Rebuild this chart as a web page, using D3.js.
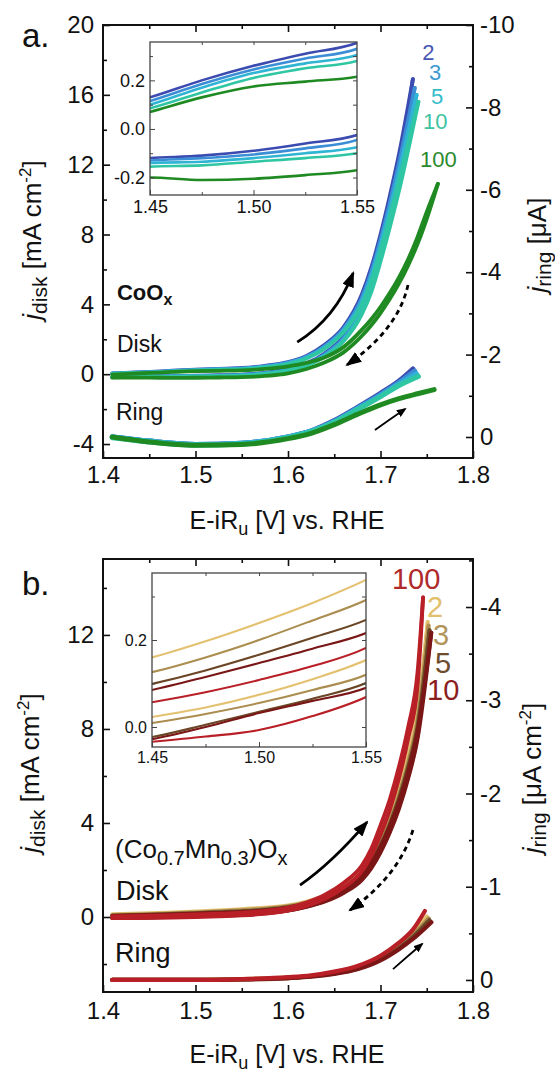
<!DOCTYPE html>
<html>
<head>
<meta charset="utf-8">
<script src="https://cdn.jsdelivr.net/npm/d3@7"></script>
<style>
body { margin: 0; background: #fff; }
text { font-family: "Liberation Sans", Arial, sans-serif; fill: #111; }
</style>
</head>
<body>
<svg id="fig" width="555" height="1074"></svg>
<script>
// ---------- data ----------
const scanRates = ["2", "3", "5", "10", "100"]   // mV/s

// panel a: CoOx  (disk in mA cm-2, ring in uA)
const gridA = [1.41, 1.45, 1.475, 1.50, 1.525, 1.55, 1.575, 1.60, 1.62, 1.64, 1.66, 1.68, 1.69, 1.70, 1.71, 1.72, 1.73, 1.74, 1.75]
const diskFwdA = [
    [0.05, 0.13, 0.20, 0.26, 0.31, 0.355, 0.48, 0.70, 1.05, 1.70, 2.70, 4.60, 6.10, 8.00, 10.2, 12.6],
    [0.04, 0.115, 0.185, 0.245, 0.29, 0.33, 0.45, 0.66, 1.00, 1.62, 2.60, 4.40, 5.85, 7.70, 9.80, 12.1],
    [0.03, 0.10, 0.17, 0.23, 0.27, 0.305, 0.42, 0.62, 0.95, 1.55, 2.50, 4.20, 5.60, 7.40, 9.40, 11.6],
    [0.02, 0.085, 0.15, 0.21, 0.25, 0.28, 0.39, 0.58, 0.90, 1.48, 2.40, 4.00, 5.35, 7.10, 9.00, 11.1],
    [-0.02, 0.07, 0.13, 0.175, 0.195, 0.215, 0.30, 0.45, 0.65, 0.97, 1.55, 2.55, 3.15, 3.85, 4.65, 5.55, 6.60, 7.85, 9.30]
]
const diskRevA = [
    [-0.15, -0.12, -0.11, -0.09, -0.06, -0.025, 0.08, 0.30, 0.62, 1.20, 2.15, 3.90, 5.30, 7.20, 9.40, 11.8],
    [-0.16, -0.13, -0.12, -0.105, -0.08, -0.045, 0.06, 0.27, 0.58, 1.14, 2.05, 3.75, 5.10, 6.95, 9.05, 11.4],
    [-0.17, -0.14, -0.135, -0.12, -0.10, -0.075, 0.03, 0.24, 0.54, 1.08, 1.96, 3.60, 4.90, 6.70, 8.70, 10.9],
    [-0.18, -0.155, -0.15, -0.135, -0.12, -0.10, 0.00, 0.21, 0.50, 1.02, 1.88, 3.45, 4.70, 6.45, 8.40, 10.5],
    [-0.20, -0.20, -0.21, -0.205, -0.19, -0.17, -0.10, 0.05, 0.30, 0.68, 1.25, 2.20, 2.80, 3.50, 4.30, 5.20, 6.25, 7.45, 8.90]
]
const diskTurnA = [[1.735, 16.9], [1.737, 16.4], [1.739, 16.0], [1.741, 15.6], [1.762, 10.9]]

const ringGridA = [1.41, 1.45, 1.50, 1.55, 1.60, 1.625, 1.65, 1.675, 1.70, 1.72, 1.74]
const ringA = [
    [0.00, 0.10, 0.18, 0.15, 0.00, -0.15, -0.40, -0.72, -1.06, -1.36],
    [0.00, 0.10, 0.18, 0.15, 0.00, -0.14, -0.38, -0.70, -1.03, -1.32],
    [0.00, 0.10, 0.18, 0.15, 0.00, -0.14, -0.37, -0.68, -1.00, -1.28],
    [0.02, 0.12, 0.20, 0.17, 0.02, -0.13, -0.36, -0.66, -0.98, -1.25],
    [0.00, 0.12, 0.20, 0.18, 0.04, -0.09, -0.30, -0.55, -0.78, -0.93, -1.05]
]
const ringTurnA = [[1.735, -1.65], [1.737, -1.60], [1.739, -1.53], [1.741, -1.47], [1.758, -1.15]]

// panel b: (Co0.7Mn0.3)Ox  (disk in mA cm-2, ring in uA cm-2)
const gridB = [1.41, 1.45, 1.475, 1.50, 1.525, 1.55, 1.575, 1.60, 1.62, 1.64, 1.66, 1.68, 1.69, 1.70, 1.71, 1.72, 1.73, 1.74]
const diskFwdB = [
    [0.12, 0.16, 0.197, 0.239, 0.285, 0.338, 0.40, 0.50, 0.66, 0.92, 1.32, 1.95, 2.50, 3.25, 4.20, 5.40, 6.90, 8.80],
    [0.09, 0.126, 0.16, 0.20, 0.245, 0.292, 0.36, 0.46, 0.62, 0.88, 1.27, 1.90, 2.42, 3.15, 4.05, 5.20, 6.60, 8.40],
    [0.06, 0.099, 0.13, 0.166, 0.205, 0.246, 0.31, 0.42, 0.58, 0.84, 1.22, 1.83, 2.35, 3.05, 3.95, 5.05, 6.40, 8.10],
    [0.05, 0.085, 0.115, 0.147, 0.18, 0.216, 0.28, 0.39, 0.55, 0.80, 1.18, 1.78, 2.28, 2.98, 3.85, 4.90, 6.20, 7.90],
    [0.03, 0.057, 0.08, 0.108, 0.14, 0.182, 0.26, 0.40, 0.62, 0.95, 1.45, 2.20, 2.90, 3.90, 5.00, 6.40, 8.10, 10.4]
]
const diskRevB = [
    [-0.01, 0.023, 0.045, 0.074, 0.11, 0.154, 0.22, 0.33, 0.49, 0.74, 1.12, 1.72, 2.25, 2.95, 3.85, 5.00, 6.45, 8.30],
    [-0.02, 0.009, 0.03, 0.055, 0.085, 0.12, 0.19, 0.30, 0.46, 0.71, 1.08, 1.68, 2.18, 2.88, 3.75, 4.85, 6.20, 8.00],
    [-0.04, -0.023, 0.005, 0.035, 0.065, 0.101, 0.17, 0.28, 0.44, 0.68, 1.05, 1.62, 2.12, 2.80, 3.65, 4.70, 6.00, 7.70],
    [-0.045, -0.028, 0.00, 0.032, 0.06, 0.09, 0.16, 0.27, 0.43, 0.66, 1.02, 1.58, 2.07, 2.74, 3.58, 4.60, 5.90, 7.55],
    [-0.05, -0.034, -0.022, -0.007, 0.025, 0.069, 0.14, 0.27, 0.47, 0.78, 1.25, 1.95, 2.60, 3.50, 4.55, 5.90, 7.60, 9.80]
]
const diskTurnB = [[1.751, 12.55], [1.752, 12.4], [1.753, 12.2], [1.755, 12.1], [1.746, 13.6]]

const ringGridB = [1.41, 1.50, 1.55, 1.60, 1.625, 1.65, 1.675, 1.70, 1.72, 1.735]
const ringB = [
    [0.00, 0.00, -0.010, -0.025, -0.045, -0.080, -0.14, -0.24, -0.37, -0.50],
    [0.00, 0.00, -0.010, -0.020, -0.040, -0.075, -0.13, -0.23, -0.35, -0.48],
    [0.00, 0.00, -0.005, -0.020, -0.040, -0.070, -0.12, -0.22, -0.34, -0.46],
    [0.00, 0.00, -0.005, -0.020, -0.035, -0.065, -0.115, -0.21, -0.33, -0.44],
    [0.00, 0.00, -0.010, -0.030, -0.050, -0.090, -0.15, -0.26, -0.40, -0.54]
]
const ringTurnB = [[1.750, -0.68], [1.752, -0.66], [1.753, -0.64], [1.755, -0.62], [1.748, -0.74]]

// scan rate label anchors [V, j_disk]
const rateLabelPosA = [[1.745, 18.0], [1.7524, 16.85], [1.7546, 15.5], [1.746, 14.05], [1.7427, 11.87]]
const rateLabelPosB = [[1.7503, 12.76], [1.7568, 11.57], [1.7589, 10.38], [1.7503, 9.23], [1.7124, 13.95]]

// scan direction arrows [start, control, end] in [V, j_disk]
const arrowsA = [
    [[1.610, 1.84], [1.651, 3.19], [1.6705, 5.8]],
    [[1.7297, 5.11], [1.7195, 2.59], [1.6638, 0.53]],
    [[1.694, -3.2], [1.710, -2.6], [1.7265, -2.0]]
]
const arrowsB = [
    [[1.613, 1.36], [1.648, 2.32], [1.6854, 4.04]],
    [[1.7351, 3.70], [1.7195, 1.74], [1.667, 0.29]],
    [[1.7135, -2.22], [1.729, -1.68], [1.7449, -1.15]]
]

// ---------- styles ----------
const colorsA = ["#3b4bb0", "#3b8ed6", "#30b4d4", "#2fc6a4", "#1f8a22"]
const labelColorsA = ["#4656b4", "#3e9bd0", "#35bccb", "#3ec3a0", "#2b8a2e"]
const colorsB = ["#e4c170", "#ab8d4f", "#6b4626", "#7a1616", "#b81f26"]
const labelColorsB = ["#e2bf6c", "#b2955a", "#6e4c2e", "#8b1e1e", "#b02a2c"]

const svg = d3.select("#fig")
const defs = svg.append("defs")

function addMarker(id, len, half) {
    defs.append("marker")
        .attr("id", id)
        .attr("viewBox", `0 ${-half} ${len} ${2 * half}`)
        .attr("markerWidth", len)
        .attr("markerHeight", 2 * half)
        .attr("markerUnits", "userSpaceOnUse")
        .attr("refX", len - 2)
        .attr("refY", 0)
        .attr("orient", "auto")
        .append("path")
        .attr("d", `M0,${-half}L${len},0L0,${half}Z`)
        .attr("fill", "#000")
}
addMarker("headBig", 16, 6)
addMarker("headSmall", 10, 4)

function toPoints(grid, vals, turn) {
    return vals.map((v, i) => [grid[i], v]).concat([turn])
}

function drawPanel(p) {
    const g = svg.append("g")
    const x = d3.scaleLinear().domain([1.4, 1.8]).range([p.left, p.right])
    const yL = d3.scaleLinear().domain(p.yDomL).range([p.bottom, p.top])
    const yR = d3.scaleLinear().domain(p.yDomR).range([p.bottom, p.top])

    // axes (ticks pointing inward)
    const fmt1 = d => d.toFixed(1)
    const xb = g.append("g").attr("transform", `translate(0,${p.bottom})`)
    xb.call(d3.axisBottom(x).tickValues([1.4, 1.5, 1.6, 1.7, 1.8]).tickFormat(fmt1).tickSize(-7).tickPadding(p.xPad))
    xb.append("g").call(d3.axisBottom(x).tickValues([1.45, 1.55, 1.65, 1.75]).tickFormat("").tickSize(-4))
    const xt = g.append("g").attr("transform", `translate(0,${p.top})`)
    xt.call(d3.axisTop(x).tickValues([1.5, 1.6, 1.7]).tickFormat("").tickSize(-7))
    xt.append("g").call(d3.axisTop(x).tickValues([1.45, 1.55, 1.65, 1.75]).tickFormat("").tickSize(-4))

    const yl = g.append("g").attr("transform", `translate(${p.left},0)`)
    yl.call(d3.axisLeft(yL).tickValues(p.leftTicks).tickFormat(d => String(d)).tickSize(-7).tickPadding(9))
    yl.append("g").call(d3.axisLeft(yL).tickValues(p.leftMinor).tickFormat("").tickSize(-4))
    const yr = g.append("g").attr("transform", `translate(${p.right},0)`)
    yr.call(d3.axisRight(yR).tickValues(p.rightTicks).tickFormat(d => String(d)).tickSize(-7).tickPadding(7))
    yr.append("g").call(d3.axisRight(yR).tickValues(p.rightMinor).tickFormat("").tickSize(-4))

    g.selectAll(".domain").remove()
    g.selectAll(".tick line").attr("stroke", "#111").attr("stroke-width", 1.6)
    g.selectAll(".tick text").style("font-size", "24px").attr("fill", "#111")

    g.append("rect")
        .attr("x", p.left).attr("y", p.top)
        .attr("width", p.right - p.left).attr("height", p.bottom - p.top)
        .attr("fill", "none").attr("stroke", "#111").attr("stroke-width", 2)

    // curves
    const lineL = d3.line().x(d => x(d[0])).y(d => yL(d[1])).curve(d3.curveMonotoneX)
    const lineR = d3.line().x(d => x(d[0])).y(d => yR(d[1])).curve(d3.curveMonotoneX)
    const curves = g.append("g")
    p.order.forEach(i => {
        curves.append("path").datum(toPoints(p.ringGrid, p.ring[i], p.ringTurn[i]))
            .attr("d", lineR).attr("fill", "none")
            .attr("stroke", p.colors[i]).attr("stroke-width", p.ringWidth)
            .attr("stroke-linecap", "round").attr("stroke-linejoin", "round")
    })
    p.order.forEach(i => {
        curves.append("path").datum(toPoints(p.grid, p.rev[i], p.turn[i]))
            .attr("d", lineL).attr("fill", "none")
            .attr("stroke", p.colors[i]).attr("stroke-width", p.diskWidth)
            .attr("stroke-linecap", "round")
        curves.append("path").datum(toPoints(p.grid, p.fwd[i], p.turn[i]))
            .attr("d", lineL).attr("fill", "none")
            .attr("stroke", p.colors[i]).attr("stroke-width", p.diskWidth)
            .attr("stroke-linecap", "round")
    })

    // arrows
    p.arrows.forEach((a, k) => {
        const pth = d3.path()
        pth.moveTo(x(a[0][0]), yL(a[0][1]))
        pth.quadraticCurveTo(x(a[1][0]), yL(a[1][1]), x(a[2][0]), yL(a[2][1]))
        g.append("path").attr("d", pth.toString())
            .attr("fill", "none").attr("stroke", "#000")
            .attr("stroke-width", k == 2 ? 1.8 : 2.8)
            .attr("stroke-dasharray", k == 1 ? "5,4" : null)
            .attr("marker-end", k == 2 ? "url(#headSmall)" : "url(#headBig)")
    })

    // scan rate labels
    scanRates.forEach((r, i) => {
        g.append("text")
            .attr("x", x(p.labelPos[i][0])).attr("y", yL(p.labelPos[i][1]))
            .text(r)
            .style("font-size", p.labelSize + "px")
            .style("fill", p.labelColors[i])
    })

    // inset: same data, zoomed
    const ins = p.inset
    const ix = d3.scaleLinear().domain([1.45, 1.55]).range([ins.left, ins.right])
    const iy = d3.scaleLinear().domain(ins.yDom).range([ins.bottom, ins.top])
    const ig = g.append("g")
    ig.append("rect")
        .attr("x", ins.left).attr("y", ins.top)
        .attr("width", ins.right - ins.left).attr("height", ins.bottom - ins.top)
        .attr("fill", "#fff")
    defs.append("clipPath").attr("id", ins.id)
        .append("rect")
        .attr("x", ins.left).attr("y", ins.top)
        .attr("width", ins.right - ins.left).attr("height", ins.bottom - ins.top)
    const iline = d3.line().x(d => ix(d[0])).y(d => iy(d[1])).curve(d3.curveMonotoneX)
    const ic = ig.append("g").attr("clip-path", `url(#${ins.id})`)
    p.order.forEach(i => {
        ic.append("path").datum(toPoints(p.grid, p.fwd[i], p.turn[i]))
            .attr("d", iline).attr("fill", "none")
            .attr("stroke", p.colors[i]).attr("stroke-width", ins.width)
        ic.append("path").datum(toPoints(p.grid, p.rev[i], p.turn[i]))
            .attr("d", iline).attr("fill", "none")
            .attr("stroke", p.colors[i]).attr("stroke-width", ins.width)
    })
    const ixb = ig.append("g").attr("transform", `translate(0,${ins.bottom})`)
    ixb.call(d3.axisBottom(ix).tickValues([1.45, 1.50, 1.55]).tickFormat(d => d.toFixed(2)).tickSize(-5).tickPadding(5))
    ixb.append("g").call(d3.axisBottom(ix).tickValues([1.475, 1.525]).tickFormat("").tickSize(-3))
    const ixt = ig.append("g").attr("transform", `translate(0,${ins.top})`)
    ixt.call(d3.axisTop(ix).tickValues([1.475, 1.50, 1.525]).tickFormat("").tickSize(-3))
    const iyl = ig.append("g").attr("transform", `translate(${ins.left},0)`)
    iyl.call(d3.axisLeft(iy).tickValues(ins.yTicks).tickFormat(fmt1).tickSize(-5).tickPadding(5))
    iyl.append("g").call(d3.axisLeft(iy).tickValues(ins.yMinor).tickFormat("").tickSize(-3))
    const iyr = ig.append("g").attr("transform", `translate(${ins.right},0)`)
    iyr.call(d3.axisRight(iy).tickValues(ins.yTicks.concat(ins.yMinor)).tickFormat("").tickSize(-4))
    ig.selectAll(".domain").remove()
    ig.selectAll(".tick line").attr("stroke", "#444").attr("stroke-width", 1)
    ig.selectAll(".tick text").style("font-size", ins.font + "px").attr("fill", "#222")
    ig.append("rect")
        .attr("x", ins.left).attr("y", ins.top)
        .attr("width", ins.right - ins.left).attr("height", ins.bottom - ins.top)
        .attr("fill", "none").attr("stroke", "#444").attr("stroke-width", 1.3)

    return { x: x, yL: yL }
}

// ---------- panel a ----------
const pa = drawPanel({
    left: 103, right: 473, top: 25, bottom: 458,
    yDomL: [-4.8, 20], yDomR: [0.51, -10],
    leftTicks: [-4, 0, 4, 8, 12, 16, 20], leftMinor: [-2, 2, 6, 10, 14, 18],
    rightTicks: [-10, -8, -6, -4, -2, 0], rightMinor: [-9, -7, -5, -3, -1],
    xPad: 8,
    grid: gridA, fwd: diskFwdA, rev: diskRevA, turn: diskTurnA,
    ringGrid: ringGridA, ring: ringA, ringTurn: ringTurnA,
    colors: colorsA, labelColors: labelColorsA, labelPos: rateLabelPosA, labelSize: 22,
    order: [0, 1, 2, 3, 4], diskWidth: 3.8, ringWidth: 5,
    arrows: arrowsA,
    inset: { id: "clipA", left: 150, right: 357, top: 42, bottom: 195, yDom: [-0.272, 0.358],
             yTicks: [-0.2, 0.0, 0.2], yMinor: [-0.1, 0.1, 0.3], width: 2.6, font: 18 }
})

// ---------- panel b ----------
const pb = drawPanel({
    left: 103, right: 473, top: 559, bottom: 992,
    yDomL: [-3.19, 15.23], yDomR: [0.129, -4.515],
    leftTicks: [0, 4, 8, 12], leftMinor: [-2, 2, 6, 10, 14],
    rightTicks: [-4, -3, -2, -1, 0], rightMinor: [-4.5, -3.5, -2.5, -1.5, -0.5],
    xPad: 10,
    grid: gridB, fwd: diskFwdB, rev: diskRevB, turn: diskTurnB,
    ringGrid: ringGridB, ring: ringB, ringTurn: ringTurnB,
    colors: colorsB, labelColors: labelColorsB, labelPos: rateLabelPosB, labelSize: 29,
    order: [0, 1, 2, 3, 4], diskWidth: 3.8, ringWidth: 4.2,
    arrows: arrowsB,
    inset: { id: "clipB", left: 152, right: 366, top: 573, bottom: 747, yDom: [-0.046, 0.354],
             yTicks: [0.0, 0.2], yMinor: [0.1, 0.3], width: 2.1, font: 16 }
})

// ---------- texts ----------
function addText(x, y, size, parts, opts) {
    const t = svg.append("text").attr("x", x).attr("y", y).style("font-size", size + "px")
    if (opts && opts.rotate) t.attr("transform", `rotate(-90,${x},${y})`)
    if (opts && opts.anchor) t.attr("text-anchor", opts.anchor)
    if (opts && opts.bold) t.style("font-weight", "bold")
    parts.forEach(pt => {
        const s = t.append("tspan").text(pt.t)
        if (pt.dy) s.attr("dy", pt.dy)
        if (pt.size) s.style("font-size", pt.size + "px")
        if (pt.italic) s.style("font-style", "italic")
    })
    return t
}

svg.append("text").attr("x", 22).attr("y", 47).text("a.").style("font-size", "33px")
svg.append("text").attr("x", 22).attr("y", 595).text("b.").style("font-size", "33px")

// x titles
const xTitle = [{ t: "E-iR" }, { t: "u", dy: 6, size: 18 }, { t: " [V] vs. RHE", dy: -6 }]
addText(287, 529, 25, xTitle, { anchor: "middle" })
addText(287, 1063, 25, xTitle, { anchor: "middle" })

// y titles
const jDisk = [{ t: "j", italic: true }, { t: "disk", dy: 6, size: 21 }, { t: " [mA cm", dy: -6 }, { t: "-2", dy: -10, size: 17 }, { t: "]", dy: 10 }]
addText(41, 240, 26, jDisk, { anchor: "middle", rotate: true })
addText(39, 773, 26, jDisk, { anchor: "middle", rotate: true })
addText(546, 245, 26, [{ t: "j", italic: true }, { t: "ring", dy: 5, size: 21 }, { t: " [\u03bcA]", dy: -5 }], { anchor: "middle", rotate: true })
addText(541, 778, 26, [{ t: "j", italic: true }, { t: "ring", dy: 5, size: 21 }, { t: " [\u03bcA cm", dy: -5 }, { t: "-2", dy: -10, size: 17 }, { t: "]", dy: 10 }], { anchor: "middle", rotate: true })

// material / electrode labels (anchored in data space)
addText(pa.x(1.4151), pa.yL(4.25), 22, [{ t: "CoO" }, { t: "x", dy: 5, size: 16 }], { bold: true })
addText(pa.x(1.4151), pa.yL(1.27), 23, [{ t: "Disk" }])
addText(pa.x(1.414), pa.yL(-2.62), 23, [{ t: "Ring" }])
addText(pb.x(1.413), pb.yL(2.51), 26, [{ t: "(Co" }, { t: "0.7", dy: 7, size: 20 }, { t: "Mn", dy: -7 }, { t: "0.3", dy: 7, size: 20 }, { t: ")O", dy: -7 }, { t: "x", dy: 7, size: 20 }])
addText(pb.x(1.414), pb.yL(0.72), 27, [{ t: "Disk" }])
addText(pb.x(1.413), pb.yL(-1.92), 27, [{ t: "Ring" }])
</script>
</body>
</html>
